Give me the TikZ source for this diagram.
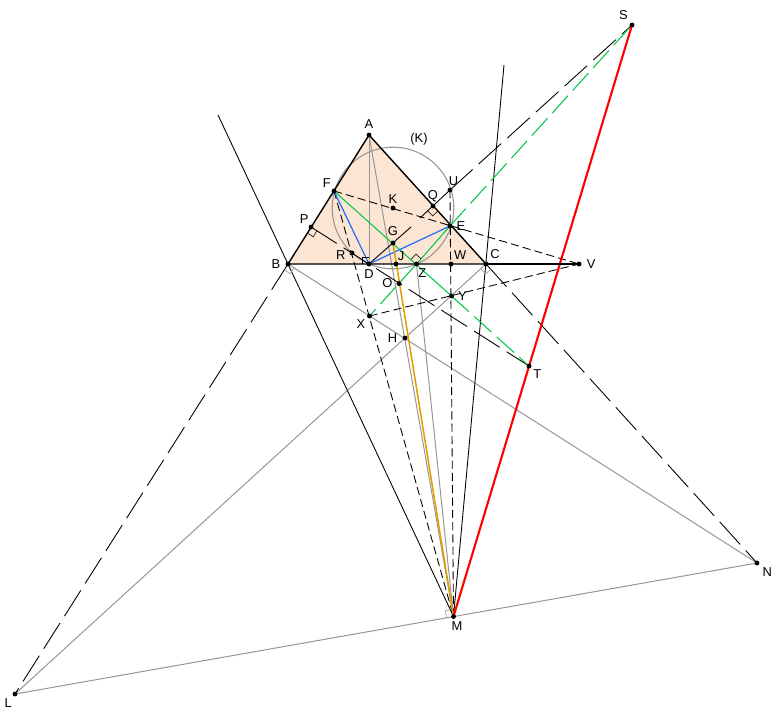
\documentclass[tikz,border=0pt]{standalone}
\usepackage{fontspec}
\setmainfont{Liberation Sans}
\usetikzlibrary{positioning,calc}

\definecolor{peach}{RGB}{252,229,211}
\definecolor{ggreen}{RGB}{0,200,70}
\definecolor{gblue}{RGB}{25,110,255}
\definecolor{gorange}{RGB}{225,160,0}
\definecolor{ggray}{RGB}{150,150,150}

% right angle mark: [colour]{vertex}{towards}{towards}
\newcommand{\rightangle}[4][black]{%
  \path ($(#2)!6pt!(#3)$) coordinate (ra1) ($(#2)!6pt!(#4)$) coordinate (ra2);
  \draw[#1, line width=0.5pt] (ra1) -- ($(ra1)+(ra2)-(#2)$) -- (ra2);}

\begin{document}
\begin{tikzpicture}[x=0.03cm, y=-0.03cm,
    lbl/.style={font=\fontsize{11}{13}\selectfont, inner sep=0.5pt},
    sideline/.style={black, line width=1.2pt},
    blackline/.style={black, line width=0.75pt},
    grayline/.style={ggray, line width=0.85pt},
    longdash/.style={black, line width=0.75pt, dash pattern=on 26pt off 7pt},
    shortdash/.style={black, line width=0.75pt, dash pattern=on 7pt off 3.5pt},
    greenline/.style={ggreen, line width=0.9pt},
    greendash/.style={ggreen, line width=0.9pt, dash pattern=on 20pt off 6pt}]
    \useasboundingbox (0,0) rectangle (780,714);

    % Points
    \coordinate (A) at (369,135);
    \coordinate (B) at (288,264);
    \coordinate (C) at (486,264);
    \coordinate (D) at (369,264);
    \coordinate (E) at (450,226);
    \coordinate (F) at (334,191);
    \coordinate (P) at (311,227);
    \coordinate (R) at (352,253);
    \coordinate (G) at (393,243);
    \coordinate (J) at (396,264);
    \coordinate (Z) at (416.5,264);
    \coordinate (W) at (451,264);
    \coordinate (K) at (393,208);
    \coordinate (Q) at (433,206);
    \coordinate (U) at (450,190);
    \coordinate (O) at (399,283.5);
    \coordinate (Y) at (451.5,296);
    \coordinate (X) at (369.5,316);
    \coordinate (H) at (405,338);
    \coordinate (T) at (529,366);
    \coordinate (V) at (579,264);
    \coordinate (S) at (632,25);
    \coordinate (M) at (453.5,616.5);
    \coordinate (N) at (757,563);
    \coordinate (L) at (15,694);
    % free ends
    \coordinate (bmtop) at (218,115);
    \coordinate (cmtop) at (504,65);
    \coordinate (qstart) at (420,218);
    \coordinate (dgend) at (411,227);

    % Triangle and circle (K)
    \fill[peach] (A) -- (B) -- (C) -- cycle;
    \draw[ggray, line width=0.9pt] (K) circle [radius=1.824cm];

    % Gray lines
    \draw[grayline] (A) -- (D);
    \draw[grayline] (A) -- (M);
    \draw[grayline] (Z) -- (M);
    \draw[grayline] (B) -- (N);
    \draw[grayline] (L) -- (N);
    \draw[grayline] (L) -- (C);

    % Black lines
    \draw[blackline] (bmtop) -- (M);
    \draw[blackline] (cmtop) -- (M);
    \draw[blackline] (D) -- (dgend);
    \draw[blackline] (qstart) -- (U);
    \draw[longdash] (U) -- (S);
    \draw[longdash] (B) -- (L);
    \draw[longdash] (C) -- (N);
    \draw[longdash] (P) -- (T);
    \draw[shortdash] (F) -- (V);
    \draw[shortdash] (F) -- (M);
    \draw[shortdash] (U) -- (M);
    \draw[shortdash] (X) -- (V);

    % Coloured lines
    \draw[greenline] (F) -- (Y);
    \draw[greendash] (Y) -- (T);
    \draw[greenline] (Z) -- (E);
    \draw[greendash] (Z) -- (X);
    \draw[greendash] (E) -- (S);
    \draw[gblue, line width=1pt] (F) -- (D) -- (E);
    \draw[gorange, line width=1.3pt] (G) -- (M);
    \draw[red, line width=1.8pt] (S) -- (M);

    % Triangle sides
    \draw[sideline, line join=round] (A) -- (B) -- (C) -- cycle;
    \draw[sideline] (C) -- (V);

    % Right angles
    \rightangle{D}{A}{B}
    \rightangle{P}{B}{R}
    \rightangle{Q}{C}{qstart}
    \rightangle{Z}{E}{F}
    \rightangle[ggray]{B}{L}{N}
    \rightangle[ggray]{C}{N}{L}
    \rightangle[ggray]{M}{L}{A}

    % Dots
    \foreach \p in {A,B,C,D,E,F,P,R,G,J,Z,W,K,Q,U,O,Y,X,H,T,V,S,M,N,L}
        \fill (\p) circle (2.1pt);

    % Labels
    \node[lbl, above=5pt of A] (lA) {A};
    \node[lbl, left=6pt of B] (lB) {B};
    \node[lbl, above right=4pt and 3pt of C] (lC) {C};
    \node[lbl, below=4pt of D] (lD) {D};
    \node[lbl, right=5pt of E] (lE) {E};
    \node[lbl, above left=2pt and 2pt of F] (lF) {F};
    \node[lbl, above left=2.5pt and 1.5pt of P] (lP) {P};
    \node[lbl, left=5pt of R, yshift=-2pt] (lR) {R};
    \node[lbl, above=6pt of G] (lG) {G};
    \node[lbl, above right=2pt and 1pt of J] (lJ) {J};
    \node[lbl, below right=3pt and 1pt of Z] (lZ) {Z};
    \node[lbl, above right=3pt and 2pt of W] (lW) {W};
    \node[lbl, above=3pt of K] (lK) {K};
    \node[lbl, above=3pt of Q] (lQ) {Q};
    \node[lbl, above=3pt of U, xshift=3pt] (lU) {U};
    \node[lbl, left=5pt of O] (lO) {O};
    \node[lbl, right=5pt of Y] (lY) {Y};
    \node[lbl, below left=2pt and 3pt of X] (lX) {X};
    \node[lbl, left=6pt of H] (lH) {H};
    \node[lbl, below right=2pt and 3pt of T] (lT) {T};
    \node[lbl, right=6pt of V] (lV) {V};
    \node[lbl, above left=3.5pt and 3pt of S] (lS) {S};
    \node[lbl, below=4pt of M, xshift=3pt] (lM) {M};
    \node[lbl, below right=3pt and 4pt of N] (lN) {N};
    \node[lbl, below left=3pt and 2pt of L] (lL) {L};
    \node[lbl] (lcircle) at (419,139) {(K)};
\end{tikzpicture}
\end{document}
